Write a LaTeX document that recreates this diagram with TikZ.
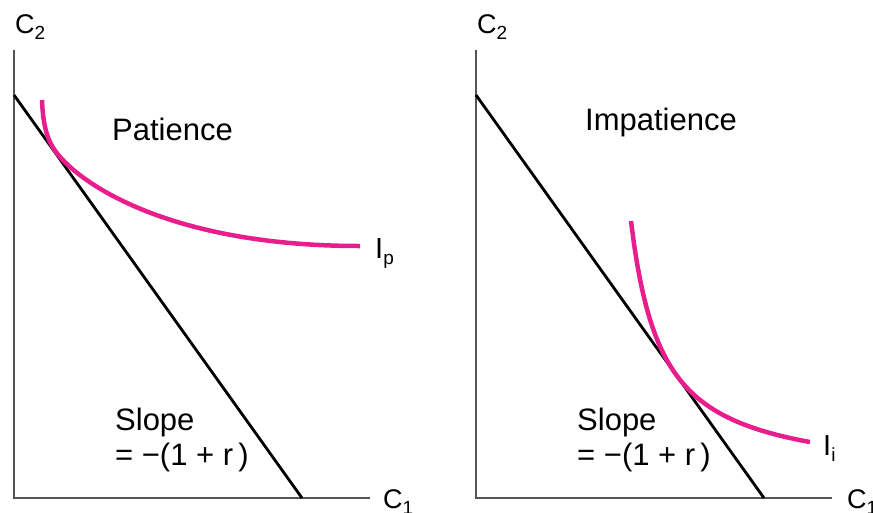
\documentclass[tikz,border=0pt]{standalone}
\usepackage{fontspec}
\setmainfont{Liberation Sans}
\usetikzlibrary{arrows.meta}
\tikzset{>=Stealth}
\usetikzlibrary{positioning}
\definecolor{indiffpink}{RGB}{232,30,140}
\definecolor{axisgray}{RGB}{85,85,85}
\newcommand{\subtxt}[3]{{\fontsize{#3}{#3}\selectfont #1}\raisebox{-6pt}{\fontsize{19}{20}\selectfont #2}}

\begin{document}
\begin{tikzpicture}[x=1pt,y=-1pt,
    axis/.style={draw=axisgray,line width=1.6pt},
    budget/.style={draw=black,line width=2.8pt},
    indiff/.style={draw=indiffpink,line width=4.5pt},
    lbl/.style={inner sep=0pt,anchor=base west,font=\fontsize{31}{36}\selectfont}]
    \useasboundingbox (0,0) rectangle (873,512);
    % left panel: patience
    \coordinate (ly) at (14,50);
    \coordinate (lo) at (14,498);
    \coordinate (lx) at (370,498);
    \coordinate (lb1) at (14,95);
    \coordinate (lb2) at (302,498);
    \coordinate (ltop) at (42,100);
    \coordinate (ltan) at (56,152);
    \coordinate (lend) at (360,246);
    \draw[axis] (ly) -- (lo) -- (lx);
    \draw[budget] (lb1) -- (lb2);
    \draw[indiff] (ltop) .. controls (43,125) and (47,140) .. (ltan)
        .. controls (80,184) and (170,246) .. (lend);
    \node[lbl] at (15,33) (c2l) {\subtxt{C}{2}{27}};
    \node[lbl] at (383,508) (c1l) {\subtxt{C}{1}{27}};
    \node[lbl] at (112,140) (patience) {Patience};
    \node[lbl] at (375,258) (ip) {\subtxt{I}{p}{29}};
    \node[lbl] at (115,430) (slopel) {Slope};
    \node[lbl] at (115,465) (eql) {= −(1 + r\,)};
    % right panel: impatience
    \coordinate (ry) at (476,50);
    \coordinate (ro) at (476,498);
    \coordinate (rx) at (832,498);
    \coordinate (rb1) at (476,95);
    \coordinate (rb2) at (764,498);
    \draw[axis] (ry) -- (ro) -- (rx);
    \draw[budget] (rb1) -- (rb2);
    \draw[indiff] plot[domain=631:810,samples=60] (\x,{480.3-8037.5/(\x-600)});
    \node[lbl] at (477,33) (c2r) {\subtxt{C}{2}{27}};
    \node[lbl] at (847,508) (c1r) {\subtxt{C}{1}{27}};
    \node[lbl] at (585,130) (impatience) {Impatience};
    \node[lbl] at (823,455) (ii) {\subtxt{I}{i}{29}};
    \node[lbl] at (577,430) (sloper) {Slope};
    \node[lbl] at (577,465) (eqr) {= −(1 + r\,)};
\end{tikzpicture}
\end{document}
